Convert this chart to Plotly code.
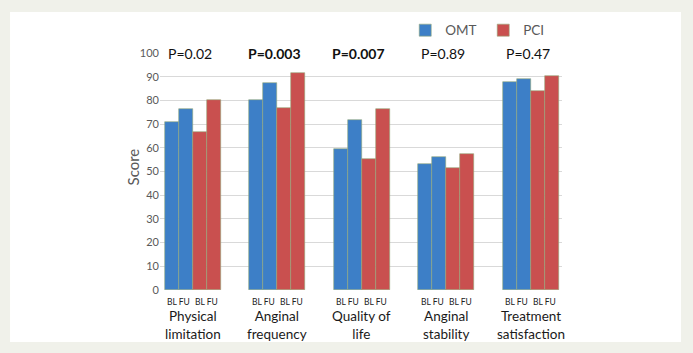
import plotly.graph_objects as go

categories = ["Physical<br>limitation", "Anginal<br>frequency", "Quality of<br>life",
              "Anginal<br>stability", "Treatment<br>satisfaction"]
omt_bl = [71.0, 80.3, 59.5, 53.2, 87.9]
omt_fu = [76.5, 87.3, 71.6, 56.1, 88.9]
pci_bl = [66.8, 76.9, 55.1, 51.6, 84.0]
pci_fu = [80.0, 91.6, 76.4, 57.5, 90.4]
p_values = ["P=0.02", "P=0.003", "P=0.007", "P=0.89", "P=0.47"]
p_bold = [False, True, True, False, False]
sub_labels = ["BL FU", "BL FU"]

BLUE = "#3d7fc7"
RED = "#c9504f"
EDGE = "#94a878"
FONT = "Lato, 'Open Sans', sans-serif"

w = 14 / 84.5  # bar width in category units
idx = list(range(len(categories)))

fig = go.Figure()
offs = [-1.5 * w, -0.5 * w, 0.5 * w, 1.5 * w]
series = [(omt_bl, BLUE, "OMT", True), (omt_fu, BLUE, "OMT", False),
          (pci_bl, RED, "PCI", True), (pci_fu, RED, "PCI", False)]
for (vals, col, name, show), off in zip(series, offs):
    fig.add_trace(go.Bar(
        x=[i + off for i in idx], y=vals, width=w, name=name,
        legendgroup=name, showlegend=show,
        marker=dict(color=col, line=dict(color=EDGE, width=0.6)),
    ))

annotations = []
for i, (p, b) in enumerate(zip(p_values, p_bold)):
    annotations.append(dict(
        x=i - 0.04, y=100, xref="x", yref="y", text=f"<b>{p}</b>" if b else p,
        showarrow=False, font=dict(size=14, color="#111111", family=FONT),
        bgcolor="white", borderpad=5, xanchor="center", yanchor="middle"))
    for k, s in enumerate(sub_labels):
        annotations.append(dict(
            x=i + (k - 0.5) * 2 * w, y=0, xref="x", yref="paper", text=s,
            showarrow=False, yshift=-12, font=dict(size=8.5, color="#222222", family=FONT),
            xanchor="center", yanchor="middle"))
    annotations.append(dict(
        x=i, y=0, xref="x", yref="paper", text=categories[i],
        showarrow=False, yshift=-35, font=dict(size=13.5, color="#1a1a1a", family=FONT),
        xanchor="center", yanchor="middle"))

annotations.append(dict(
    x=-0.066, y=0.519, xref="paper", yref="paper", text="Score", textangle=-90,
    showarrow=False, font=dict(size=15, color="#595959", family=FONT),
    xanchor="center", yanchor="middle"))

fig.update_layout(
    width=693, height=353,
    margin=dict(l=160, r=131, t=53, b=63),
    paper_bgcolor="#f0f1ea", plot_bgcolor="white",
    barmode="overlay", bargap=0,
    font=dict(family=FONT),
    shapes=[dict(type="rect", xref="paper", yref="paper",
                 x0=-0.373, x1=1.296, y0=-0.219, y1=1.173,
                 fillcolor="white", line=dict(width=0), layer="below")],
    annotations=annotations,
    legend=dict(orientation="h", x=0.61, y=1.03, xanchor="left", yanchor="bottom",
                font=dict(size=13.5, color="#595959", family=FONT),
                bgcolor="rgba(0,0,0,0)", itemwidth=30, traceorder="normal",
                entrywidth=33, entrywidthmode="pixels"),
    xaxis=dict(range=[-0.39, 4.367], showticklabels=False, showgrid=False,
               zeroline=False, showline=False, fixedrange=True),
    yaxis=dict(range=[0, 100], dtick=10, showgrid=True, gridcolor="#d9d9d9",
               gridwidth=1, zeroline=False, showline=False,
               tickfont=dict(size=11, color="#595959", family=FONT)),
)

fig.write_html("out.html")
